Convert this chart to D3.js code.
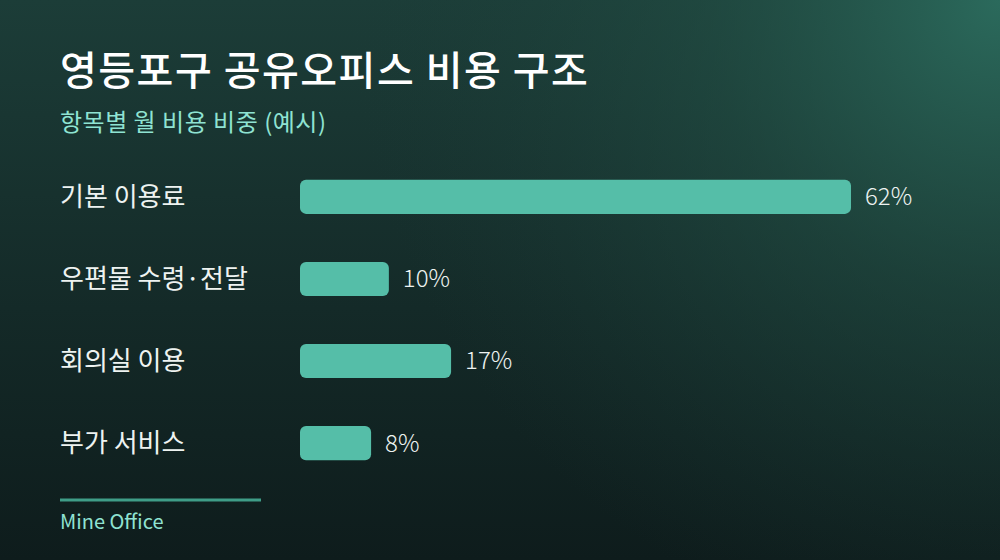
<!DOCTYPE html>
<html>
<head>
<meta charset="utf-8">
<script src="https://cdn.jsdelivr.net/npm/d3@7"></script>
<style>
  body { margin: 0; background: #10201f; }
  svg { display: block; font-family: "Noto Sans CJK KR", "Noto Sans", sans-serif; }
</style>
</head>
<body>
<svg id="chart" width="1000" height="560"></svg>
<script>
// données
var categories = ["기본 이용료", "우편물 수령·전달", "회의실 이용", "부가 서비스"];
var shares = [62, 10, 17, 8];
var titleText = "영등포구 공유오피스 비용 구조";
var subtitleText = "항목별 월 비용 비중 (예시)";
var sourceText = "Mine Office";

var width = 1000, height = 560;
var svg = d3.select("#chart");

// fond : dégradé vertical + halo en haut à droite
var defs = svg.append("defs");
var lin = defs.append("linearGradient")
  .attr("id", "bgLin")
  .attr("x1", 0).attr("y1", 0).attr("x2", 0).attr("y2", 1);
lin.append("stop").attr("offset", "0%").attr("stop-color", "#1c3d38");
lin.append("stop").attr("offset", "55%").attr("stop-color", "#142a28");
lin.append("stop").attr("offset", "100%").attr("stop-color", "#0e1c1c");

var halo = defs.append("radialGradient")
  .attr("id", "bgHalo")
  .attr("gradientUnits", "userSpaceOnUse")
  .attr("cx", 1000).attr("cy", 0).attr("r", 650);
halo.append("stop").attr("offset", "0%").attr("stop-color", "#2b6a5c").attr("stop-opacity", 1);
halo.append("stop").attr("offset", "45%").attr("stop-color", "#235247").attr("stop-opacity", 0.5);
halo.append("stop").attr("offset", "100%").attr("stop-color", "#1c3d38").attr("stop-opacity", 0);

svg.append("rect").attr("width", width).attr("height", height).attr("fill", "url(#bgLin)");
svg.append("rect").attr("width", width).attr("height", height).attr("fill", "url(#bgHalo)");

// titre + sous-titre
svg.append("text")
  .attr("x", 60).attr("y", 85)
  .attr("fill", "#ffffff")
  .attr("font-size", 40)
  .attr("font-weight", 500)
  .attr("letter-spacing", 1.5)
  .text(titleText);

svg.append("text")
  .attr("x", 60).attr("y", 131)
  .attr("fill", "#8fe3d2")
  .attr("font-size", 24)
  .attr("letter-spacing", 0.5)
  .text(subtitleText);

// échelles
var x = d3.scaleLinear().domain([0, d3.max(shares)]).range([300, 851]);
var y = d3.scaleBand().domain(categories).range([156, 484]).paddingInner(0.585).paddingOuter(0.29);

var rows = svg.append("g").selectAll("g")
  .data(categories)
  .join("g");

rows.append("text")
  .attr("x", 60)
  .attr("y", d => y(d) + y.bandwidth() / 2)
  .attr("dy", "0.35em")
  .attr("fill", "#eef3f1")
  .attr("font-size", 26)
  .text(d => d);

rows.append("rect")
  .attr("x", x(0))
  .attr("y", d => y(d))
  .attr("height", y.bandwidth())
  .attr("width", (d, i) => x(shares[i]) - x(0))
  .attr("rx", 6)
  .attr("fill", "#55bea8");

rows.append("text")
  .attr("x", (d, i) => x(shares[i]) + 14)
  .attr("y", d => y(d) + y.bandwidth() / 2)
  .attr("dy", "0.35em")
  .attr("fill", "#eef3f1")
  .attr("font-size", 24)
  .attr("font-weight", 300)
  .text((d, i) => shares[i] + "%");

// pied de page
svg.append("line")
  .attr("x1", 60).attr("x2", 261)
  .attr("y1", 500).attr("y2", 500)
  .attr("stroke", "#3f9d88")
  .attr("stroke-width", 3);

svg.append("text")
  .attr("x", 60).attr("y", 529)
  .attr("fill", "#8fe3d2")
  .attr("font-size", 20)
  .text(sourceText);
</script>
</body>
</html>
